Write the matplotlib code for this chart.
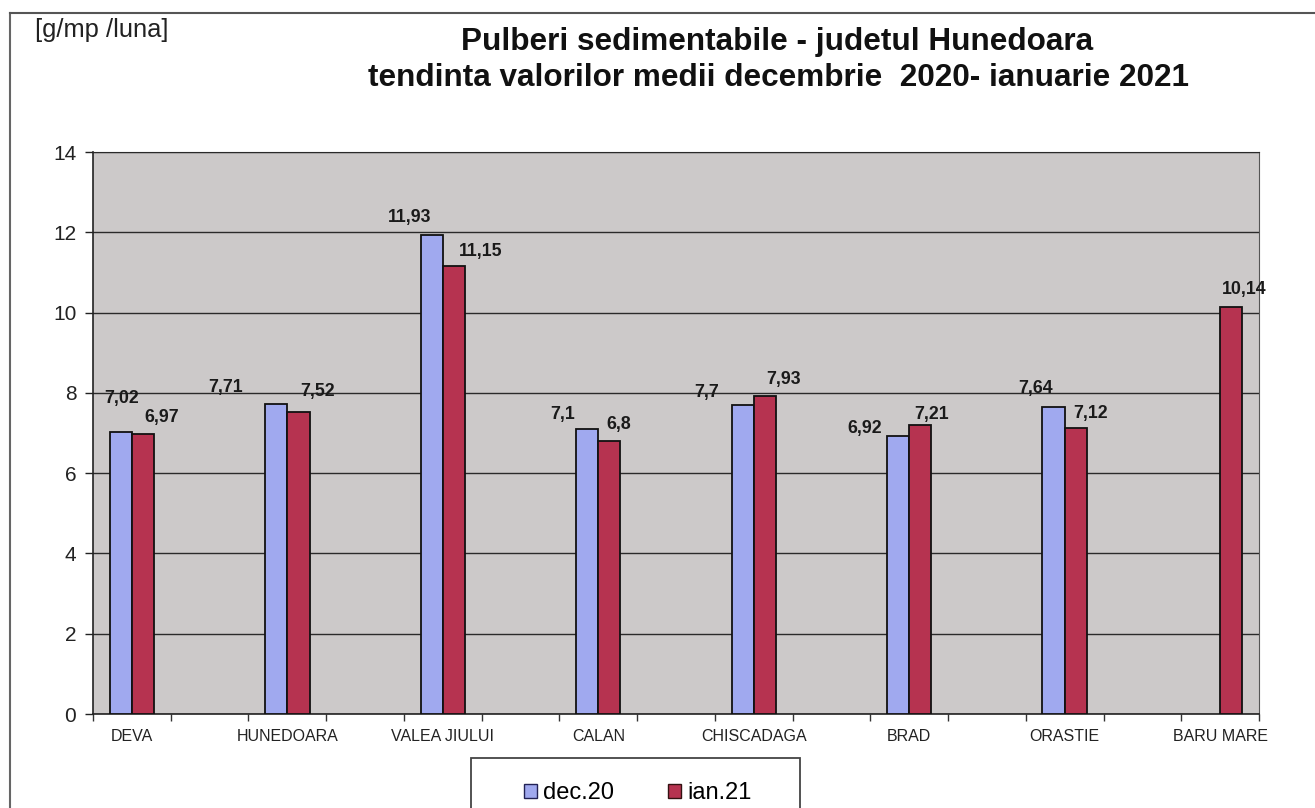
import numpy as np
import matplotlib
matplotlib.use("Agg")
import matplotlib.pyplot as plt
from matplotlib.patches import Rectangle
from matplotlib.lines import Line2D

plt.rcParams['font.family'] = ['Liberation Sans', 'DejaVu Sans']

# data
stations = ['DEVA', 'HUNEDOARA', 'VALEA JIULUI', 'CALAN', 'CHISCADAGA',
            'BRAD', 'ORASTIE', 'BARU MARE']
dec20 = [7.02, 7.71, 11.93, 7.10, 7.70, 6.92, 7.64, np.nan]
ian21 = [6.97, 7.52, 11.15, 6.80, 7.93, 7.21, 7.12, 10.14]
series_names = ['dec.20', 'ian.21']

# hand-placed label offsets (pixels, relative to bar top centre)
dec_offsets = [(1, 34), (-51, 17), (-22, 18), (-25, 14), (-36, 12), (-33, 8), (-18, 19), (0, 0)]
ian_offsets = [(19, 17), (19, 21), (27, 15), (9, 17), (19, 16), (11, 10), (15, 15), (13, 17)]

BLUE = '#a0a9ef'
RED = '#b63350'
W, H = 1315, 808

fig = plt.figure(figsize=(W / 100, H / 100), dpi=100)
ax = fig.add_axes([93 / W, 1 - 714 / H, (1259 - 93) / W, (714 - 152) / H])
ax.set_facecolor('#ccc9c9')

# every station takes two slots on the category axis (the second one is empty)
x = np.arange(len(stations)) * 2
bw = 0.286


def fmt(v):
    return f"{v:g}".replace('.', ',')


for vals, offs, color, shift in [(dec20, dec_offsets, BLUE, -bw / 2),
                                 (ian21, ian_offsets, RED, bw / 2)]:
    for xi, v, (dx, dy) in zip(x, vals, offs):
        if np.isnan(v):
            continue
        ax.bar(xi + shift, v, width=bw, color=color, edgecolor='#111111',
               linewidth=1.3, zorder=3)
        ax.annotate(fmt(v), (xi + shift, v), xytext=(dx, dy),
                    textcoords='offset pixels', ha='center', va='center',
                    fontsize=12.8, fontweight='bold', color='#1a1a1a', zorder=4)

ax.set_xlim(-0.5, 2 * len(stations) - 1.5)
ax.set_ylim(0, 14)
ax.set_yticks(np.arange(0, 15, 2))
ax.tick_params(axis='y', direction='out', length=6, width=1, pad=6,
               labelsize=15, colors='#222222')
ax.grid(axis='y', color='#2a2a2a', linewidth=1, zorder=1)

ax.set_xticks(np.arange(-0.5, 2 * len(stations) - 1, 1))
ax.set_xticklabels([])
ax.tick_params(axis='x', which='major', direction='out', length=5, width=1,
               colors='#333333')
ax.set_xticks(x, minor=True)
ax.set_xticklabels(stations, minor=True)
ax.tick_params(axis='x', which='minor', length=0, pad=11, labelsize=11.5,
               labelcolor='#222222')

for side in ['left', 'bottom']:
    ax.spines[side].set_color('#222222')
    ax.spines[side].set_linewidth(1.2)
ax.spines['right'].set_color('#555555')
ax.spines['top'].set_color('#2a2a2a')

# titles
fig.text(35 / W, 1 - 30 / H, '[g/mp /luna]', fontsize=18.4, ha='left',
         va='center', color='#222222')
fig.text(777 / W, 1 - 42 / H, 'Pulberi sedimentabile - judetul Hunedoara',
         fontsize=22.7, fontweight='bold', ha='center', va='center',
         color='#111111')
fig.text(778 / W, 1 - 78 / H,
         'tendinta valorilor medii decembrie  2020- ianuarie 2021',
         fontsize=22.7, fontweight='bold', ha='center', va='center',
         color='#111111')

# outer chart frame (only top and left edges fall inside the picture)
fig.add_artist(Line2D([10 / W, 10 / W], [0, 1 - 13 / H], transform=fig.transFigure,
                      color='#666666', linewidth=1.5))
fig.add_artist(Line2D([10 / W, 1], [1 - 13 / H, 1 - 13 / H], transform=fig.transFigure,
                      color='#555555', linewidth=1.5))

# legend box, cut by the bottom edge
fig.add_artist(Rectangle((471 / W, -0.05), (800 - 471) / W, 0.05 + (808 - 758) / H,
                         transform=fig.transFigure, facecolor='white',
                         edgecolor='#444444', linewidth=1.3))
handles = [Rectangle((0, 0), 1, 1, facecolor=BLUE, edgecolor='#222255', linewidth=1),
           Rectangle((0, 0), 1, 1, facecolor=RED, edgecolor='#331111', linewidth=1)]
fig.legend(handles, series_names, loc='center', bbox_to_anchor=(638 / W, 1 - 793 / H),
           ncol=2, frameon=False, fontsize=17, handlelength=0.55, handleheight=0.55,
           handletextpad=0.25, columnspacing=2.3, borderpad=0)

fig.savefig('out.png', dpi=100)
